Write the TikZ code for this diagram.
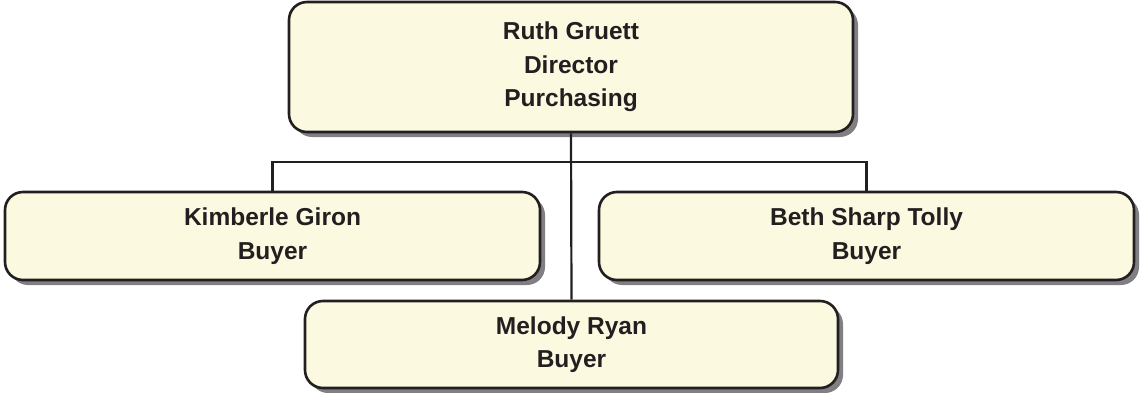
\documentclass[tikz,border=0pt]{standalone}
\usepackage{fontspec}
\setmainfont{Liberation Sans}
\usetikzlibrary{shadows}
\definecolor{boxfill}{RGB}{252,249,225}
\definecolor{ink}{RGB}{35,31,32}
\definecolor{shadowgray}{RGB}{128,128,132}
\begin{document}
\begin{tikzpicture}[x=1pt,y=-1pt,
  orgbox/.style={draw=ink, line width=2.6pt, fill=boxfill, rounded corners=18pt,
    align=center, font=\fontsize{24.5}{33.5}\selectfont\bfseries, text=ink, inner sep=0pt,
    drop shadow={shadow xshift=5pt, shadow yshift=-5pt, fill=shadowgray, opacity=1}},
  link/.style={draw=ink, line width=2.2pt}]
\useasboundingbox (0,0) rectangle (1142,393);
\node[orgbox, minimum width=564pt, minimum height=130pt] (top) at (571,67) {Ruth Gruett\\Director\\Purchasing};
\node[orgbox, minimum width=535pt, minimum height=88pt] (kim) at (272.5,236) {Kimberle Giron\\Buyer};
\node[orgbox, minimum width=535pt, minimum height=88pt] (beth) at (866.5,236) {Beth Sharp Tolly\\Buyer};
\node[orgbox, minimum width=533pt, minimum height=87pt] (mel) at (571.5,344.5) {Melody Ryan\\Buyer};
\coordinate (bus) at (571,162);
\draw[link] (top.south) -- (mel.north);
\draw[link] (kim.north) |- (bus) -| (beth.north);
\end{tikzpicture}
\end{document}
